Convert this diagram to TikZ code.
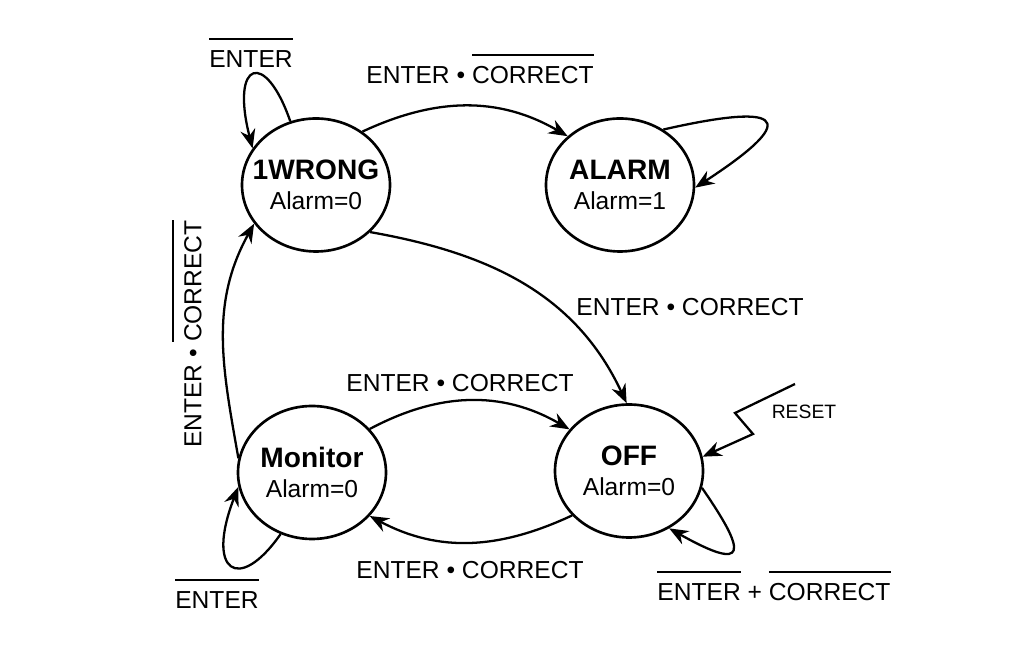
\documentclass[tikz,border=0pt]{standalone}
\usepackage{fontspec}
\setmainfont{Liberation Sans}
\usetikzlibrary{shapes.geometric,arrows.meta}

\newcommand{\nbar}[1]{\leavevmode\setbox0\hbox{#1}\rlap{\raisebox{\dimexpr\ht0+6pt\relax}[0pt][0pt]{\rule{\wd0}{1pt}}}\box0\relax}

\begin{document}
\begin{tikzpicture}[>={Stealth[length=3.8mm,width=3mm]}, line width=1.3pt,
  stateoval/.style={ellipse, draw, line width=1.5pt, minimum width=2.96cm, minimum height=2.66cm,
    inner xsep=-8pt, inner ysep=0pt, align=center, font=\fontsize{14}{17}\selectfont},
  lbl/.style={font=\fontsize{14}{17}\selectfont, inner sep=0pt}]
\useasboundingbox (0,0) rectangle (20.48,-13.06);

\path 
(6.32,-3.70) node[stateoval] (wrong) {{\fontsize{16}{17}\selectfont\bfseries 1WRONG}\\Alarm=0}
(12.40,-3.70) node[stateoval] (alarm) {{\fontsize{16}{17}\selectfont\bfseries ALARM}\\Alarm=1}
(6.24,-9.45) node[stateoval] (monitor) {{\fontsize{16}{17}\selectfont\bfseries Monitor}\\Alarm=0}
(12.58,-9.42) node[stateoval] (off) {{\fontsize{16}{17}\selectfont\bfseries OFF}\\Alarm=0};

\path
(9.60,-1.50) node[lbl] (l-wa) {ENTER • \nbar{CORRECT}}
(13.80,-6.14) node[lbl] (l-wo) {ENTER • CORRECT}
(3.86,-6.68) node[lbl, rotate=90] (l-mw) {ENTER • \nbar{CORRECT}}
(9.20,-7.66) node[lbl] (l-mo) {ENTER • CORRECT}
(9.40,-11.40) node[lbl] (l-om) {ENTER • CORRECT}
(5.02,-1.18) node[lbl] (l-ww) {\nbar{ENTER}}
(4.34,-12.00) node[lbl] (l-mm) {\nbar{ENTER}}
(15.48,-11.84) node[lbl] (l-oo) {\nbar{ENTER} + \nbar{CORRECT}}
(16.08,-8.24) node[lbl, font=\fontsize{11}{13}\selectfont] (l-reset) {RESET};

\coordinate (reset) at (15.9,-7.68);
\coordinate (zig1) at (14.7,-8.26);
\coordinate (zig2) at (15.06,-8.68);

\draw[->] (wrong.49) to[out=25,in=150] (alarm.137);
\draw[->] (wrong.-41) to[out=-10,in=115] (off.92);
\draw[->] (monitor.169) to[out=100,in=241] (wrong.212);
\draw[->] (monitor.37) to[out=28,in=150] (off.145);
\draw[->] (off.218) to[out=205,in=-28] (monitor.323);
% self loops
\draw[->] (wrong.112) .. controls +(-0.5,1.45) and +(-0.45,1.75) .. (wrong.150);
\draw[->] (alarm.52) .. controls +(2.2,0.5) and +(2.3,1.5) .. (alarm.-2);
\draw[->] (monitor.243) .. controls +(-0.84,-1.2) and +(-0.66,-1.7) .. (monitor.191);
\draw[->] (off.-13) .. controls +(0.9,-1.3) and +(1.6,-0.9) .. (off.-55);
\draw[->] (reset) -- (zig1) -- (zig2) -- (off.11);
\end{tikzpicture}
\end{document}
